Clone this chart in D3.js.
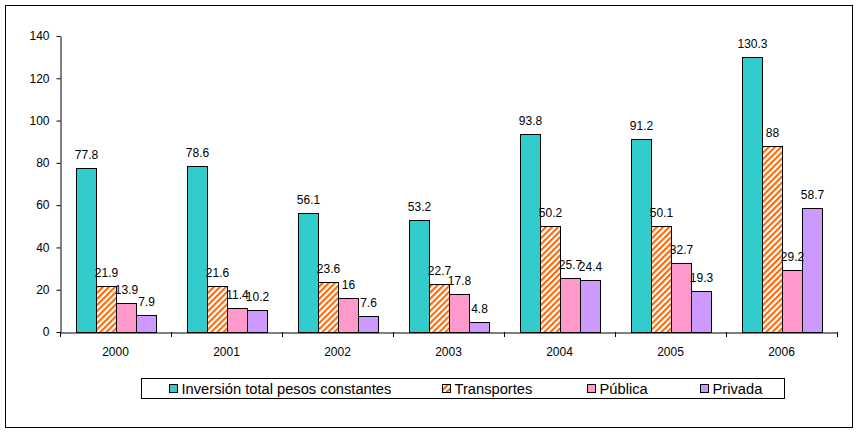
<!DOCTYPE html>
<html>
<head>
<meta charset="utf-8">
<script src="https://cdn.jsdelivr.net/npm/d3@7"></script>
<style>
  body { margin: 0; background: #fff; }
  text { font-family: 'Liberation Sans', Arial, sans-serif; font-size: 12px; fill: #000; }
</style>
</head>
<body>
<div class="viz"></div>
<script>
'use strict'

const width = 859,
  height = 433;

const years = ['2000', '2001', '2002', '2003', '2004', '2005', '2006'];
const series_names = ['Inversión total pesos constantes', 'Transportes', 'Pública', 'Privada'];
const total = [77.8, 78.6, 56.1, 53.2, 93.8, 91.2, 130.3];
const transportes = [21.9, 21.6, 23.6, 22.7, 50.2, 50.1, 88];
const publica = [13.9, 11.4, 16, 17.8, 25.7, 32.7, 29.2];
const privada = [7.9, 10.2, 7.6, 4.8, 24.4, 19.3, 58.7];
const y_ticks = [0, 20, 40, 60, 80, 100, 120, 140];

const fills = ['#33cccc', 'url(#hatch)', '#ff99cc', '#cc99ff'];
const legend_x = [169, 442, 587, 700];

let svg = d3.select('.viz')
  .append('svg')
  .attr('width', width)
  .attr('height', height);

// hatch pattern for Transportes
let pat = svg.append('defs').append('pattern')
  .attr('id', 'hatch')
  .attr('patternUnits', 'userSpaceOnUse')
  .attr('width', 4.3)
  .attr('height', 4.3)
  .attr('patternTransform', 'rotate(45)');
pat.append('rect').attr('width', 4.3).attr('height', 4.3).attr('fill', '#fff');
pat.append('rect').attr('width', 2.1).attr('height', 4.3).attr('fill', '#ff6600');

svg.append('rect')
  .attr('x', 5.5).attr('y', 5.5)
  .attr('width', 847).attr('height', 422)
  .attr('fill', 'none')
  .attr('stroke', '#000');

let x = d3.scaleBand()
  .domain(years)
  .range([60, 837]);
let xs = d3.scaleBand()
  .domain(d3.range(4))
  .range([0, x.bandwidth()])
  .paddingOuter(0.775);
let y = d3.scaleLinear()
  .domain([0, 140])
  .range([332, 36]);

let data = [total, transportes, publica, privada];
let groups = svg.append('g')
  .selectAll('g')
  .data(years)
  .join('g')
  .attr('transform', d => `translate(${x(d)},0)`);

groups.selectAll('rect')
  .data((d, i) => data.map((s, k) => ({k: k, v: s[i]})))
  .join('rect')
  .attr('x', d => Math.round(xs(d.k)) + 0.5)
  .attr('y', d => Math.round(y(d.v)) + 0.5)
  .attr('width', xs.bandwidth())
  .attr('height', d => y(0) - Math.round(y(d.v)))
  .attr('fill', d => fills[d.k])
  .attr('stroke', '#000')
  .attr('stroke-width', 1);

groups.selectAll('text')
  .data((d, i) => data.map((s, k) => ({k: k, v: s[i]})))
  .join('text')
  .attr('x', d => xs(d.k) + xs.bandwidth() / 2 + 1)
  .attr('y', d => y(d.v) - 9)
  .attr('text-anchor', 'middle')
  .text(d => d.v);

// axes
let yaxis = svg.append('g')
  .attr('transform', 'translate(60.5,0)')
  .call(d3.axisLeft(y).tickValues(y_ticks).tickSize(4).tickSizeOuter(0));
let xaxis = svg.append('g')
  .attr('transform', 'translate(0,332.5)')
  .call(d3.axisBottom(x).tickSize(0).tickPadding(15));
svg.append('g')
  .selectAll('line')
  .data(years.concat(['end']))
  .join('line')
  .attr('x1', (d, i) => Math.round(x.range()[0] + i * x.step()) + 0.5)
  .attr('x2', (d, i) => Math.round(x.range()[0] + i * x.step()) + 0.5)
  .attr('y1', 332)
  .attr('y2', 337)
  .attr('stroke', '#000');
svg.selectAll('.domain').attr('stroke', '#000');
svg.selectAll('.tick line').attr('stroke', '#000');
svg.selectAll('.tick text')
  .style('font-family', "'Liberation Sans', Arial, sans-serif")
  .style('font-size', '12px')
  .attr('fill', '#000');
yaxis.selectAll('.tick text').attr('x', -11);

// legend
let legend = svg.append('g');
legend.append('rect')
  .attr('x', 141.5).attr('y', 378.5)
  .attr('width', 643).attr('height', 20)
  .attr('fill', '#fff')
  .attr('stroke', '#000');
let items = legend.selectAll('g.item')
  .data(series_names)
  .join('g')
  .attr('class', 'item')
  .attr('transform', (d, i) => `translate(${legend_x[i]},0)`);
items.append('rect')
  .attr('x', 0.5).attr('y', 384.5)
  .attr('width', 8).attr('height', 8)
  .attr('fill', (d, i) => fills[i])
  .attr('stroke', '#000');
items.append('text')
  .attr('x', 12.5)
  .attr('y', 393.5)
  .style('font-size', '14.7px')
  .text(d => d);
</script>
</body>
</html>
